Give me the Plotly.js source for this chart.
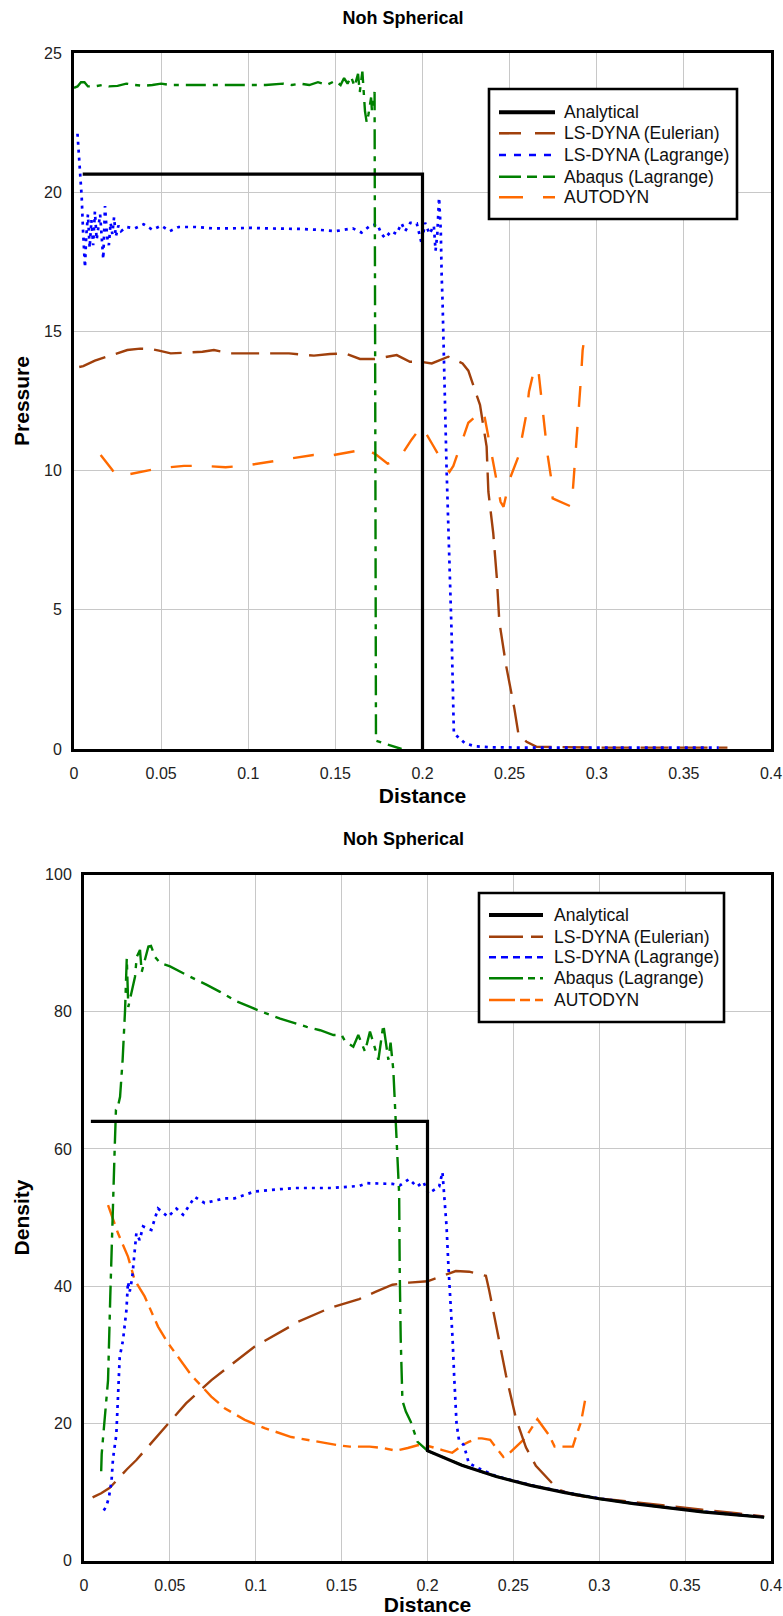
<!DOCTYPE html>
<html>
<head>
<meta charset="utf-8">
<script src="https://cdn.plot.ly/plotly-3.0.1.min.js"></script>
<style>html,body{margin:0;padding:0;background:#fff;}#chart{width:783px;height:1616px;}</style>
</head>
<body>
<div id="chart"></div>
<script>
// ---------------- DATA ----------------
const seriesNames = ["Analytical", "LS-DYNA (Eulerian)", "LS-DYNA (Lagrange)", "Abaqus (Lagrange)", "AUTODYN"];
const xTickVals = [0, 0.05, 0.1, 0.15, 0.2, 0.25, 0.3, 0.35, 0.4];
const pressureTickVals = [0, 5, 10, 15, 20, 25];
const densityTickVals = [0, 20, 40, 60, 80, 100];

// Pressure chart
const pAnalyticalX = [0.005, 0.2, 0.2];
const pAnalyticalY = [20.65, 20.65, 0];

const pEulerX = [0.003,0.0053,0.012,0.018,0.023,0.0306,0.038,0.044,0.0488,0.0555,0.065,0.0737,0.0803,0.0899,0.1,0.11,0.1182,0.1234,0.1377,0.1469,0.1555,0.1641,0.1727,0.1794,0.1852,0.1928,0.1986,0.2053,0.2148,0.223,0.2263,0.233,0.2368,0.2378,0.2406,0.2426,0.2441,0.2479,0.2527,0.255,0.2597,0.2655,0.28,0.3,0.32,0.34,0.36,0.375];
const pEulerY = [13.72,13.75,13.95,14.08,14.19,14.33,14.38,14.37,14.31,14.21,14.24,14.27,14.33,14.21,14.21,14.22,14.23,14.21,14.13,14.19,14.21,14.01,14.01,14.09,14.15,13.91,13.91,13.85,14.09,13.85,13.59,12.36,10.86,9.24,7.75,6.19,4.57,3.02,1.46,0.56,0.26,0.08,0.06,0.05,0.05,0.05,0.05,0.05];

const pLagX = [0.002,0.003,0.0044,0.0052,0.0063,0.007,0.008,0.009,0.010,0.011,0.012,0.013,0.014,0.015,0.016,0.0168,0.0178,0.019,0.020,0.021,0.022,0.023,0.024,0.0255,0.027,0.03,0.035,0.04,0.045,0.05,0.055,0.06,0.07,0.08,0.09,0.1,0.11,0.12,0.13,0.14,0.15,0.16,0.165,0.17,0.174,0.1765,0.1785,0.182,0.185,0.188,0.19,0.193,0.1967,0.1995,0.2015,0.204,0.2065,0.2075,0.2085,0.2095,0.2105,0.211,0.2115,0.2138,0.2167,0.218,0.2244,0.23,0.24,0.26,0.3,0.34,0.37];
const pLagY = [22.1,21.2,19.84,18.6,17.3,18.4,19.2,18.0,19.0,18.1,19.3,18.3,18.8,19.2,18.3,17.6,19.5,18.4,18.1,18.9,18.5,19.1,18.4,18.8,18.6,18.75,18.7,18.85,18.65,18.8,18.6,18.75,18.75,18.7,18.7,18.72,18.7,18.7,18.68,18.65,18.6,18.7,18.55,18.8,18.85,18.5,18.35,18.6,18.5,18.88,18.6,18.9,18.88,18.16,18.9,18.5,18.8,17.9,18.5,19.8,18.6,17.0,16.1,10.1,4.15,0.57,0.2,0.1,0.06,0.05,0.05,0.05,0.05];

const pAbaqusX = [0.0,0.002,0.004,0.006,0.008,0.012,0.016,0.02,0.025,0.03,0.035,0.04,0.045,0.05,0.055,0.06,0.07,0.08,0.09,0.1,0.11,0.12,0.125,0.13,0.135,0.14,0.145,0.15,0.153,0.155,0.157,0.159,0.161,0.163,0.164,0.1655,0.1665,0.167,0.168,0.169,0.1705,0.171,0.1725,0.1728,0.173,0.1733,0.178,0.182,0.185,0.188];
const pAbaqusY = [23.75,23.8,23.95,23.95,23.8,23.8,23.85,23.8,23.82,23.9,23.85,23.82,23.85,23.9,23.85,23.85,23.85,23.85,23.85,23.85,23.85,23.9,23.85,23.9,23.85,23.95,23.85,24.0,23.85,24.1,23.9,24.15,23.8,24.25,23.6,24.33,23.3,22.9,22.5,22.8,23.4,22.9,23.6,15,5,0.3,0.2,0.12,0.05,0.0];

const pAutodynX = [0.0153,0.02,0.022,0.0245,0.028,0.033,0.04,0.0459,0.055,0.0631,0.0746,0.087,0.0994,0.1129,0.1243,0.1374,0.1489,0.1623,0.166,0.1737,0.18,0.1861,0.1938,0.1995,0.2059,0.2129,0.2155,0.2177,0.2219,0.2263,0.2349,0.2378,0.2406,0.2426,0.2448,0.2465,0.2502,0.255,0.2574,0.2597,0.2611,0.2645,0.2665,0.2678,0.2689,0.2707,0.2718,0.2737,0.2747,0.2856,0.2875,0.2885,0.2904,0.291,0.2919,0.2935];
const pAutodynY = [10.56,10.2,10.02,9.78,9.82,9.9,9.98,10.05,10.12,10.17,10.17,10.12,10.19,10.32,10.44,10.56,10.56,10.71,10.84,10.56,10.25,10.38,11.12,11.6,10.92,10.17,9.95,10.17,10.92,11.72,12.18,11.22,10.38,9.6,8.88,8.7,9.72,10.5,11.28,12.06,12.83,13.75,13.6,12.9,12.12,11.34,10.56,9.78,9.0,8.7,10.26,11.1,12.65,13.37,14.33,15.0];

// Density chart
const dAnalyticalX = [0.004,0.2,0.2,0.21,0.22,0.24,0.26,0.28,0.3,0.32,0.34,0.36,0.38,0.396];
const dAnalyticalY = [64,64,16,14.9,13.9,12.25,10.95,9.9,9.0,8.3,7.65,7.1,6.65,6.3];

const dEulerX = [0.005,0.01,0.015,0.02,0.025,0.0305,0.037,0.0441,0.0497,0.0594,0.0742,0.0936,0.0994,0.1178,0.1246,0.1431,0.1602,0.17,0.1796,0.1893,0.2,0.2087,0.2165,0.2243,0.234,0.2359,0.2398,0.2457,0.2515,0.2573,0.2631,0.269,0.2758,0.2845,0.2962,0.31,0.32,0.34,0.36,0.38,0.396];
const dEulerY = [9.2,9.8,10.6,12.0,13.3,14.65,16.5,18.5,20.2,22.9,26.3,30.0,31.2,33.8,34.8,36.8,38.1,39.2,40.2,40.5,40.7,41.5,42.2,42.1,41.5,39.4,34.4,27.0,20.7,16.5,13.8,12.2,10.4,9.6,9.1,8.8,8.5,7.9,7.4,6.9,6.4];

const dLagX = [0.0115,0.013,0.0145,0.016,0.0169,0.0188,0.0198,0.0208,0.0227,0.0247,0.0256,0.0266,0.028,0.0295,0.0305,0.0324,0.0344,0.0392,0.0431,0.0489,0.0538,0.0577,0.0645,0.0703,0.0819,0.0878,0.0936,0.0994,0.113,0.1227,0.144,0.1602,0.1646,0.1796,0.184,0.1893,0.1938,0.1976,0.2005,0.2068,0.2087,0.2097,0.2111,0.2122,0.2136,0.2146,0.2155,0.2169,0.2183,0.2212,0.224,0.23,0.24,0.26,0.28,0.3,0.32,0.34,0.36,0.38,0.395];
const dLagY = [7.3,7.9,9.2,11.5,14.9,18.3,23.9,29.7,32.1,36.5,40.6,39.2,41.1,44.8,47.7,46.7,48.7,48.2,51.3,50.1,51.3,50.4,53.0,52.1,52.8,52.8,53.3,53.8,54.1,54.3,54.3,54.6,55.0,54.9,54.7,55.6,54.5,55.2,53.5,54.5,56.6,53.4,48.7,42.8,37.6,32.3,27.0,20.0,17.6,16.8,14.2,13.4,12.3,11.0,9.95,9.05,8.35,7.7,7.15,6.7,6.35];

const dAbaqusX = [0.0100,0.0103,0.011,0.0125,0.014,0.0153,0.0165,0.0179,0.0186,0.0195,0.021,0.0225,0.0239,0.0245,0.0249,0.0258,0.027,0.0297,0.0307,0.0326,0.0336,0.0355,0.0375,0.039,0.0413,0.0443,0.0501,0.0578,0.0637,0.0715,0.0792,0.0889,0.0967,0.1044,0.1142,0.1219,0.1297,0.1375,0.1452,0.15,0.152,0.1568,0.1597,0.1636,0.1665,0.1714,0.1743,0.1772,0.1785,0.1801,0.1815,0.1835,0.1838,0.1844,0.1854,0.1874,0.1903,0.1942,0.2,0.21,0.22,0.24,0.26,0.28,0.3,0.32,0.34,0.36,0.38,0.396];
const dAbaqusY = [13.0,15.5,17.6,22.0,26.3,38.5,50.6,60.3,65.7,65.9,67.6,73.0,80.2,84.1,87.8,80.7,82.0,85.1,88.0,89.0,85.8,87.5,89.5,89.6,88.0,87.1,86.6,85.6,84.9,83.9,82.9,81.5,80.7,79.9,79.0,78.4,77.8,77.3,76.6,76.6,75.7,74.9,76.6,74.2,77.1,73.0,78.1,73.0,75.5,71.5,64.0,53.4,42.8,32.3,23.3,21.7,20.2,17.3,16.0,14.9,13.9,12.25,10.95,9.9,9.0,8.3,7.65,7.1,6.65,6.3];

const dAutodynX = [0.014,0.0198,0.0256,0.0295,0.0353,0.0431,0.0489,0.0548,0.0625,0.0741,0.0819,0.0936,0.1052,0.1207,0.1363,0.1479,0.1548,0.1663,0.174,0.1817,0.1885,0.1942,0.199,0.2038,0.2087,0.2144,0.2202,0.224,0.2288,0.2317,0.2365,0.2394,0.2442,0.2471,0.2519,0.2567,0.264,0.2683,0.2712,0.274,0.2846,0.2865,0.2894,0.2917];
const dAutodynY = [51.8,47.7,44.3,40.9,38.5,34.1,31.7,29.7,27.0,23.9,22.2,20.5,19.3,18.0,17.3,16.8,16.6,16.6,16.4,16.0,16.4,16.8,16.8,16.5,16.1,15.7,16.8,17.3,17.8,17.8,17.6,16.6,15.1,15.5,16.6,17.8,20.6,19.0,18.1,16.6,16.6,18.1,20.2,23.3];

// ---------------- STYLE ----------------
const W = 783, H = 1616;
const FONT = "Liberation Sans, Arial, Helvetica, sans-serif";
const colors = ["#000000", "#A0400C", "#0000FF", "#008000", "#FF6A00"];
const widths = [3.2, 2.4, 2.7, 2.4, 2.4];
const dashTop = ["solid", "28px,11px", "3px,5px", "20px,7px,5px,7px", "21px,20px"];
const dashBot = ["solid", "28px,11px", "3px,5px", "22px,7px,5px,7px", "20px,7px,8px,7px"];
const legDashTop = ["solid", "22px,14px", "7px,8px", "22px,6px,10px,6px", "24px,20px"];
const legDashBot = ["solid", "34px,8px", "7px,5px", "34px,5px,7px,5px", "26px,5px,10px,5px"];

const px = v => v / W;
const py = v => 1 - v / H;

const topX = [pAnalyticalX, pEulerX, pLagX, pAbaqusX, pAutodynX];
const topY = [pAnalyticalY, pEulerY, pLagY, pAbaqusY, pAutodynY];
const botX = [dAnalyticalX, dEulerX, dLagX, dAbaqusX, dAutodynX];
const botY = [dAnalyticalY, dEulerY, dLagY, dAbaqusY, dAutodynY];

const traces = [];
const order = [4, 1, 2, 3, 0];
order.forEach(i => {
  traces.push({x: topX[i], y: topY[i], xaxis: "x", yaxis: "y", type: "scatter", mode: "lines",
    name: seriesNames[i], showlegend: false, line: {color: colors[i], width: widths[i], dash: dashTop[i]}});
});
order.forEach(i => {
  traces.push({x: botX[i], y: botY[i], xaxis: "x2", yaxis: "y2", type: "scatter", mode: "lines",
    name: seriesNames[i], showlegend: false, line: {color: colors[i], width: widths[i], dash: dashBot[i]}});
});

const tickFont = {family: FONT, size: 16, color: "#222"};
const axTitleFont = {family: FONT, size: 21, color: "#000"};
function xAx(domain, anchor, standoff) {
  return {domain: domain, anchor: anchor, range: [0, 0.4], tickvals: xTickVals, ticktext: xTickVals.map(String),
    showgrid: true, gridcolor: "#c8c8c8", gridwidth: 1, zeroline: false, showline: true, mirror: true,
    linecolor: "#000", linewidth: 3, ticks: "", ticklabelstandoff: 8, tickfont: tickFont,
    title: {text: "<b>Distance</b>", font: axTitleFont, standoff: standoff}};
}
function yAx(domain, anchor, range, vals, title, standoff) {
  return {domain: domain, anchor: anchor, range: range, tickvals: vals, ticktext: vals.map(String),
    showgrid: true, gridcolor: "#c8c8c8", gridwidth: 1, zeroline: false, showline: true, mirror: true,
    linecolor: "#000", linewidth: 3, ticks: "", ticklabelstandoff: 6, tickfont: tickFont,
    title: {text: "<b>" + title + "</b>", font: axTitleFont, standoff: standoff}};
}

// legend boxes (drawn as shapes + text)
const shapes = [], annotations = [];
function buildLegend(box, lineX0, lineX1, textX, rows, dashes) {
  shapes.push({type: "rect", xref: "paper", yref: "paper", x0: px(box[0]), x1: px(box[2]), y0: py(box[1]), y1: py(box[3]),
    line: {color: "#000", width: 2.6}, fillcolor: "#fff", layer: "above"});
  seriesNames.forEach((nm, i) => {
    shapes.push({type: "line", xref: "paper", yref: "paper", x0: px(lineX0), x1: px(lineX1), y0: py(rows[i]), y1: py(rows[i]),
      line: {color: colors[i], width: i === 0 ? 4 : 2.6, dash: dashes[i]}, layer: "above"});
    annotations.push({xref: "paper", yref: "paper", x: px(textX), y: py(rows[i]), xanchor: "left", yanchor: "middle",
      text: nm, showarrow: false, font: {family: FONT, size: 17.5, color: "#111"}});
  });
}
buildLegend([489, 89, 737, 219], 499, 555, 562, [112.3, 133.3, 155, 176.7, 197.3], legDashTop);
buildLegend([479, 893, 724, 1022], 489, 543, 552, [915, 936.7, 957.3, 978.3, 1000], legDashBot);

annotations.push({xref: "paper", yref: "paper", x: px(403), y: py(839), xanchor: "center", yanchor: "middle",
  text: "<b>Noh Spherical</b>", showarrow: false, font: {family: FONT, size: 18, color: "#000"}});

const layout = {
  width: W, height: H,
  margin: {l: 0, r: 0, t: 0, b: 0, pad: 0},
  paper_bgcolor: "#fff", plot_bgcolor: "#fff",
  showlegend: false,
  font: {family: FONT},
  title: {text: "<b>Noh Spherical</b>", x: px(403), xanchor: "center", y: py(17.5), yanchor: "middle",
    font: {family: FONT, size: 18, color: "#000"}},
  xaxis: xAx([px(74), px(771)], "y", 8),
  yaxis: yAx([py(749), py(53)], "x", [0, 25], pressureTickVals, "Pressure", 9),
  xaxis2: xAx([px(84), px(771)], "y2", 8),
  yaxis2: yAx([py(1560.5), py(874.5)], "x2", [0, 100], densityTickVals, "Density", 10),
  shapes: shapes,
  annotations: annotations
};

Plotly.newPlot("chart", traces, layout, {staticPlot: true, displayModeBar: false});
</script>
</body>
</html>
